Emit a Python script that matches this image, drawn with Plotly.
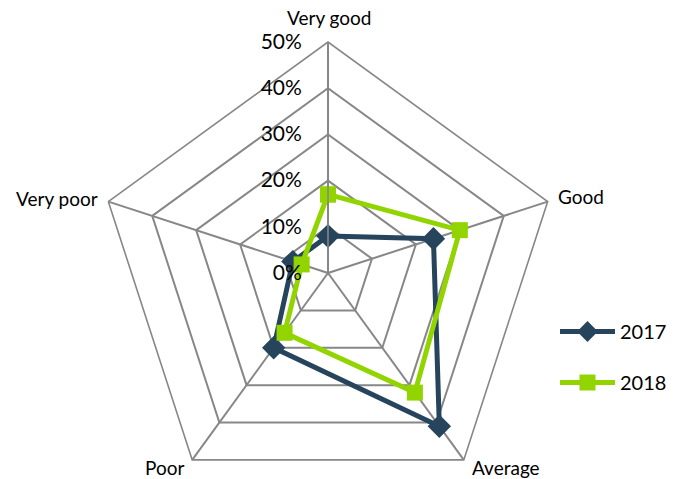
import plotly.graph_objects as go

# Survey ratings, share of responses per category
categories = ["Very good", "Good", "Average", "Poor", "Very poor"]
values_2017 = [8, 24, 41, 20, 8]
values_2018 = [17, 30, 32, 16, 6]
radial_ticks = [0, 10, 20, 30, 40, 50]
radial_labels = [f"{t}%" for t in radial_ticks]

W, H = 679, 510
cx, cy, R = 328, 273, 231  # polar centre (px from top-left) and radius

FONT = "Lato"
GRID = "#878787"
GW = 1.6

# category label anchors in pixels: (x, y, xanchor)
label_pos = [
    (329, 18, "center"),
    (556, 197, "left"),
    (470, 467, "left"),
    (186, 467, "right"),
    (100, 199, "right"),
]


def closed(seq):
    return list(seq) + [seq[0]]


fig = go.Figure()
fig.add_trace(go.Scatterpolar(
    r=closed(values_2017), theta=closed(categories), name="2017",
    mode="lines+markers",
    line=dict(color="#26455C", width=5),
    marker=dict(symbol="diamond", size=18, color="#26455C"),
    legendgroup="a",
))
fig.add_trace(go.Scatterpolar(
    r=closed(values_2018), theta=closed(categories), name="2018",
    mode="lines+markers",
    line=dict(color="#92D400", width=5),
    marker=dict(symbol="square", size=16, color="#92D400"),
    legendgroup="b",
))

for name, (px, py, anchor) in zip(categories, label_pos):
    fig.add_annotation(
        text=name, xref="paper", yref="paper",
        x=px / W, y=(H - py) / H, xanchor=anchor, yanchor="middle",
        showarrow=False, font=dict(family=FONT, size=19, color="black"),
    )

fig.update_layout(
    width=W, height=H,
    margin=dict(l=0, r=0, t=0, b=0),
    paper_bgcolor="white", plot_bgcolor="white",
    font=dict(family=FONT, size=20, color="black"),
    polar=dict(
        domain=dict(x=[(cx - R) / W, (cx + R) / W],
                    y=[(H - cy - R) / H, (H - cy + R) / H]),
        gridshape="linear",
        bgcolor="white",
        radialaxis=dict(
            range=[0, 50], tickvals=radial_ticks, ticktext=radial_labels,
            angle=90, tickangle=90, side="counterclockwise",
            showline=True, linecolor=GRID, linewidth=GW,
            gridcolor=GRID, gridwidth=GW,
            ticks="outside", ticklen=18, tickcolor="rgba(0,0,0,0)",
            tickfont=dict(family=FONT, size=21, color="black"),
        ),
        angularaxis=dict(
            direction="clockwise", rotation=90,
            linecolor=GRID, linewidth=GW,
            gridcolor=GRID, gridwidth=GW, ticks="",
            showticklabels=False,
        ),
    ),
    showlegend=True,
    legend=dict(
        x=555 / W, y=(H - 312) / H, xanchor="left", yanchor="top",
        traceorder="grouped", tracegroupgap=22, itemwidth=55,
        font=dict(family=FONT, size=20, color="black"),
        bgcolor="rgba(0,0,0,0)",
    ),
)

fig.write_html("out.html",
               post_script="document.documentElement.style.overflow='hidden';")
